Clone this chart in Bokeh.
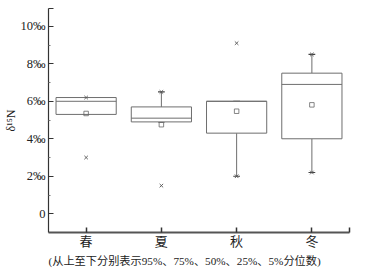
from bokeh.plotting import figure
from bokeh.models import Range1d, FixedTicker, ColumnDataSource, Title
from bokeh.embed import file_html
from bokeh.resources import INLINE

seasons = ["春", "夏", "秋", "冬"]
xpos = [1, 2, 3, 4]
q1 = [5.3, 4.9, 4.3, 4.0]
median = [6.0, 5.1, 6.0, 6.9]
q3 = [6.2, 5.7, 6.0, 7.5]
p95 = [6.2, 6.5, 6.0, 8.5]
p5 = [5.3, 4.9, 2.0, 2.2]
mean = [5.35, 4.75, 5.47, 5.81]
maxv = [6.2, 6.5, 9.1, 8.5]
minv = [3.0, 1.5, 2.0, 2.2]
y_ticks = [0, 2, 4, 6, 8, 10]
y_labels = ["0", "2‰", "4‰", "6‰", "8‰", "10‰"]
footnote = "(从上至下分别表示95%、75%、50%、25%、5%分位数)"

cjk_font = "'Liberation Serif', 'Noto Sans CJK SC'"

bw = 0.4
cw = 0.045
src = ColumnDataSource(dict(
    x=xpos, left=[x - bw for x in xpos], right=[x + bw for x in xpos],
    cl=[x - cw for x in xpos], cr=[x + cw for x in xpos],
    q1=q1, med=median, q3=q3, p95=p95, p5=p5, mean=mean, maxv=maxv, minv=minv,
))

p = figure(width=361, height=270, output_backend="svg", toolbar_location=None,
           x_range=Range1d(0.5, 4.5), y_range=Range1d(-1.0, 10.95),
           min_border_left=41, min_border_right=12, min_border_top=8, min_border_bottom=38)
p.outline_line_color = None
p.xgrid.visible = False
p.ygrid.visible = False
p.background_fill_color = "white"

line_col = "#6e6e6e"
p.segment(x0="x", y0="q3", x1="x", y1="p95", source=src, line_color=line_col, line_width=1)
p.segment(x0="x", y0="q1", x1="x", y1="p5", source=src, line_color=line_col, line_width=1)
p.segment(x0="cl", y0="p95", x1="cr", y1="p95", source=src, line_color="#444444", line_width=1.2)
p.segment(x0="cl", y0="p5", x1="cr", y1="p5", source=src, line_color="#444444", line_width=1.2)
p.quad(left="left", right="right", bottom="q1", top="q3", source=src,
       fill_color="white", line_color=line_col, line_width=1)
p.segment(x0="left", y0="med", x1="right", y1="med", source=src, line_color=line_col, line_width=1)
p.scatter(x="x", y="mean", source=src, marker="square", size=4.5,
          fill_color=None, line_color="#666666", line_width=0.8)
p.scatter(x="x", y="maxv", source=src, marker="x", size=5, line_color="#555555", line_width=0.9)
p.scatter(x="x", y="minv", source=src, marker="x", size=5, line_color="#555555", line_width=0.9)

xa = p.xaxis[0]
xa.ticker = FixedTicker(ticks=xpos + [4.5])
xa.major_label_overrides = {**{x: s for x, s in zip(xpos, seasons)}, 4.5: ""}
xa.major_tick_in = 5
xa.major_tick_out = 0
xa.minor_tick_in = 0
xa.minor_tick_out = 0
xa.axis_line_color = "#555555"
xa.axis_line_width = 2
xa.major_tick_line_color = "#333333"
xa.major_tick_line_width = 1.5
xa.major_label_standoff = 1
xa.major_label_text_font = cjk_font
xa.major_label_text_font_size = "13px"
xa.major_label_text_color = "#222222"

ya = p.yaxis[0]
ya.ticker = FixedTicker(ticks=y_ticks + [10.95], minor_ticks=[1, 3, 5, 7, 9])
ya.major_label_overrides = {**{t: l for t, l in zip(y_ticks, y_labels)}, 10.95: ""}
ya.major_tick_in = 5
ya.major_tick_out = 0
ya.minor_tick_in = 2
ya.minor_tick_out = 0
ya.axis_line_color = "#333333"
ya.axis_line_width = 1.2
ya.major_tick_line_color = "#333333"
ya.minor_tick_line_color = "#777777"
ya.major_label_standoff = 3
ya.major_label_text_font = "Liberation Serif"
ya.major_label_text_font_size = "12.5px"
ya.major_label_text_color = "#222222"
ya.axis_label = "δ¹⁵N"
ya.axis_label_text_font = "Liberation Serif"
ya.axis_label_text_font_style = "normal"
ya.axis_label_text_font_size = "12px"
ya.axis_label_text_color = "#222222"
ya.axis_label_standoff = 0

p.add_layout(Title(text=footnote, align="left", offset=0, standoff=3,
                   text_font=cjk_font, text_font_style="normal",
                   text_font_size="11.2px", text_color="#222222"), "below")

open("out.html", "w").write(file_html(p, INLINE))
